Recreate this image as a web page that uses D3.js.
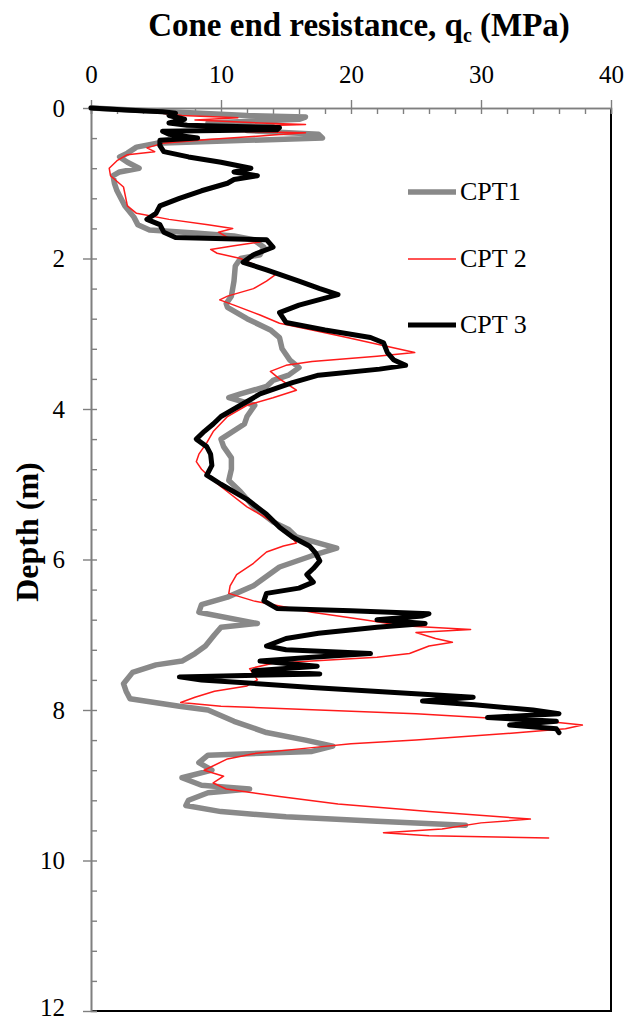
<!DOCTYPE html>
<html>
<head>
<meta charset="utf-8">
<script src="https://cdn.jsdelivr.net/npm/d3@7"></script>
<style>
  html, body { margin: 0; padding: 0; background: #fff; }
  svg { display: block; }
  text { font-family: "Liberation Serif", "Times New Roman", serif; fill: #000; }
</style>
</head>
<body>
<svg id="chart" width="629" height="1021"></svg>
<script>
// Cone penetration test profiles: depth (m) and cone end resistance qc (MPa)
const cpt1Depth = [0.00,0.05,0.10,0.12,0.15,0.20,0.25,0.30,0.35,0.40,0.43,0.47,0.52,0.60,0.65,0.72,0.80,0.85,0.90,1.00,1.10,1.20,1.30,1.45,1.55,1.62,1.66,1.70,1.75,1.85,1.95,2.00,2.10,2.30,2.50,2.60,2.65,2.80,2.95,3.05,3.20,3.35,3.45,3.55,3.62,3.70,3.80,3.85,3.95,4.10,4.20,4.40,4.50,4.65,4.80,4.95,5.10,5.30,5.50,5.60,5.70,5.85,5.95,6.10,6.25,6.35,6.50,6.60,6.70,6.85,6.90,7.00,7.15,7.25,7.35,7.40,7.50,7.65,7.75,7.85,7.95,8.00,8.15,8.30,8.40,8.48,8.55,8.60,8.70,8.80,8.90,9.00,9.05,9.10,9.20,9.27,9.35,9.42,9.48,9.53];
const cpt1Qc    = [0.0,6.0,12.0,16.5,16.0,9.0,14.0,12.0,17.5,17.8,12.0,5.0,3.5,2.8,2.2,2.8,3.7,2.2,1.7,1.8,2.0,2.3,2.6,3.3,3.6,4.5,8.0,11.0,12.5,13.3,13.0,11.5,11.1,11.0,10.8,10.4,10.5,12.0,13.8,14.5,14.7,15.3,16.0,15.2,14.0,13.5,11.5,10.6,12.6,12.0,11.8,10.0,10.2,10.8,10.8,10.6,11.5,12.5,14.0,15.2,15.8,18.9,17.0,14.5,13.3,12.5,10.5,8.5,8.3,12.8,10.0,9.5,8.8,8.0,7.0,5.0,3.2,2.5,2.7,3.0,6.8,9.0,11.0,13.5,16.5,18.6,17.0,9.0,8.3,9.3,7.0,8.5,12.2,9.0,7.5,7.3,10.0,15.0,22.0,28.8];

const cpt2Depth = [0.00,0.03,0.06,0.10,0.13,0.16,0.20,0.22,0.25,0.30,0.33,0.36,0.42,0.47,0.53,0.58,0.62,0.70,0.80,0.90,1.05,1.30,1.40,1.48,1.55,1.60,1.65,1.72,1.78,1.83,1.88,1.93,2.00,2.10,2.20,2.30,2.40,2.50,2.55,2.62,2.75,2.86,2.95,3.05,3.15,3.25,3.30,3.37,3.42,3.50,3.60,3.75,3.85,3.95,4.10,4.30,4.45,4.60,4.70,4.80,4.95,5.10,5.30,5.45,5.57,5.70,5.78,5.82,5.90,6.05,6.20,6.35,6.45,6.55,6.70,6.80,6.88,6.93,6.97,7.05,7.10,7.15,7.25,7.30,7.38,7.45,7.55,7.60,7.68,7.75,7.83,7.90,7.95,8.05,8.15,8.20,8.25,8.30,8.40,8.45,8.50,8.58,8.65,8.80,8.88,8.97,9.05,9.15,9.25,9.35,9.45,9.50,9.58,9.63,9.67,9.70];
const cpt2Qc    = [0.0,3.0,5.0,7.0,11.3,8.0,13.0,16.5,10.0,8.0,16.5,14.0,9.0,5.5,4.3,4.9,2.8,2.0,1.4,1.5,2.5,2.8,3.5,6.0,9.0,10.9,9.8,10.5,13.0,11.0,9.2,9.7,11.5,12.8,14.3,13.5,12.5,10.5,9.9,11.0,13.0,14.5,17.0,19.7,22.3,24.9,22.0,17.0,15.0,13.8,14.5,15.8,14.0,12.0,10.5,9.4,8.9,8.3,8.1,8.5,9.4,10.5,12.0,13.5,14.5,15.4,15.8,14.8,13.5,12.5,11.2,10.7,10.6,12.5,17.0,21.0,24.0,29.2,25.0,26.5,27.8,26.0,24.5,22.0,14.0,12.2,12.6,12.8,12.0,9.5,8.0,6.9,10.0,25.0,35.0,37.8,36.5,33.0,25.0,20.0,17.0,12.5,10.5,8.7,10.2,9.4,10.4,14.5,19.0,26.0,33.8,30.0,27.0,22.5,26.0,35.2];

const cpt3Depth = [0.00,0.03,0.05,0.07,0.10,0.15,0.20,0.23,0.26,0.29,0.31,0.35,0.40,0.43,0.50,0.58,0.65,0.72,0.80,0.85,0.90,0.95,1.00,1.10,1.20,1.30,1.40,1.48,1.55,1.65,1.72,1.75,1.85,1.95,2.05,2.15,2.30,2.40,2.48,2.55,2.62,2.72,2.85,2.95,3.05,3.12,3.25,3.35,3.42,3.47,3.55,3.65,3.80,3.95,4.10,4.20,4.30,4.40,4.50,4.60,4.75,4.88,5.00,5.20,5.40,5.57,5.70,5.82,5.92,6.02,6.12,6.20,6.30,6.38,6.45,6.55,6.65,6.68,6.72,6.75,6.80,6.85,6.90,6.98,7.05,7.15,7.20,7.25,7.30,7.35,7.42,7.48,7.52,7.56,7.60,7.70,7.83,7.88,7.93,8.00,8.05,8.10,8.15,8.20,8.25,8.30];
const cpt3Qc    = [0.0,3.0,5.5,6.5,6.0,7.2,6.0,7.4,14.5,14.3,5.5,6.0,8.2,5.3,5.3,5.6,7.5,10.0,12.3,11.0,12.8,11.0,10.5,8.5,6.8,5.3,5.0,4.3,5.3,5.6,6.5,13.5,14.0,12.5,11.7,13.5,16.0,17.6,19.0,17.5,16.0,14.5,15.0,18.0,21.5,22.5,22.8,23.3,24.2,22.2,17.5,15.5,13.0,11.5,10.0,9.4,8.7,8.1,8.9,9.2,9.3,8.9,10.0,12.0,13.5,14.5,15.5,16.8,17.3,17.6,17.1,16.6,17.1,16.0,13.5,13.3,14.3,20.0,26.0,25.5,22.0,25.7,22.0,17.5,15.0,13.5,15.0,21.5,17.0,13.0,17.4,12.5,17.6,6.8,8.5,17.0,29.4,25.5,29.5,34.0,36.0,30.5,35.8,32.2,35.8,36.0];

const seriesNames = ["CPT1", "CPT 2", "CPT 3"];
const seriesColors = ["#898989", "#ff1a1a", "#000000"];
const seriesWidths = [5.5, 1.5, 5];

const xTicksMajor = [0, 10, 20, 30, 40];
const yTicksMajor = [0, 2, 4, 6, 8, 10, 12];

const titleText = "Cone end resistance, q";
const titleSub = "c";
const titleUnit = " (MPa)";
const yTitle = "Depth (m)";

const margin = { left: 91, top: 108, right: 18, bottom: 10 };
const plotW = 611 - margin.left, plotH = 1011 - margin.top;

const svg = d3.select("#chart");
const x = d3.scaleLinear().domain([0, 40]).range([margin.left, margin.left + plotW]);
const y = d3.scaleLinear().domain([0, 12]).range([margin.top, margin.top + plotH]);

// plot-area border (right and bottom)
svg.append("path")
  .attr("d", `M${x(0)},${y(12)}H${x(40)}V${y(0)}`)
  .attr("fill", "none").attr("stroke", "#000").attr("stroke-width", 2);

// top axis: minor ticks inward, major ticks outward with labels
const axisCol = "#7f7f7f";
const gTopMinor = svg.append("g").attr("transform", `translate(0,${y(0)})`)
  .call(d3.axisBottom(x).tickValues(d3.range(0, 40.01, 2)).tickSize(6).tickFormat(""));
const gTop = svg.append("g").attr("transform", `translate(0,${y(0)})`)
  .call(d3.axisTop(x).tickValues(xTicksMajor).tickSizeInner(8).tickSizeOuter(0).tickPadding(17).tickFormat(d3.format("d")));

// left axis
const gLeftMinor = svg.append("g").attr("transform", `translate(${x(0)},0)`)
  .call(d3.axisRight(y).tickValues(d3.range(0, 12.01, 0.4)).tickSize(6).tickFormat(""));
const gLeft = svg.append("g").attr("transform", `translate(${x(0)},0)`)
  .call(d3.axisLeft(y).tickValues(yTicksMajor).tickSizeInner(8).tickSizeOuter(0).tickPadding(18).tickFormat(d3.format("d")));

[gTopMinor, gTop, gLeftMinor, gLeft].forEach(g => {
  g.selectAll(".domain").attr("stroke", axisCol).attr("stroke-width", 1.6);
  g.selectAll(".tick line").attr("stroke", axisCol).attr("stroke-width", 1.4);
  g.selectAll(".tick text").attr("font-family", "Liberation Serif, serif").attr("font-size", 25).attr("fill", "#000");
});
// keep the bottom depth label inside the page edge
gLeft.selectAll(".tick text").filter(d => d === 12).attr("dy", "0.16em");

// profiles
const series = [
  { depth: cpt1Depth, qc: cpt1Qc },
  { depth: cpt2Depth, qc: cpt2Qc },
  { depth: cpt3Depth, qc: cpt3Qc }
];
const line = d3.line().x(d => x(d[1])).y(d => y(d[0])).curve(d3.curveLinear);
series.forEach((s, i) => {
  const pts = s.depth.map((d, k) => [d, s.qc[k]]);
  svg.append("path").datum(pts)
    .attr("d", line)
    .attr("fill", "none")
    .attr("stroke", seriesColors[i])
    .attr("stroke-width", seriesWidths[i])
    .attr("stroke-linejoin", "round")
    .attr("stroke-linecap", "round");
});

// legend
const legendY = [192, 259, 325];
seriesNames.forEach((name, i) => {
  svg.append("line")
    .attr("x1", 408).attr("x2", 456)
    .attr("y1", legendY[i]).attr("y2", legendY[i])
    .attr("stroke", seriesColors[i]).attr("stroke-width", seriesWidths[i]);
  svg.append("text")
    .attr("x", 460).attr("y", legendY[i] + 8)
    .attr("font-size", 26)
    .text(name);
});

// titles
const t = svg.append("text")
  .attr("x", 359).attr("y", 36)
  .attr("text-anchor", "middle")
  .attr("font-size", 33).attr("font-weight", "bold");
t.append("tspan").text(titleText);
t.append("tspan").attr("font-size", 20).attr("dy", 6).text(titleSub);
t.append("tspan").attr("dy", -6).text(titleUnit);

svg.append("text")
  .attr("transform", `translate(38,532) rotate(-90)`)
  .attr("text-anchor", "middle")
  .attr("font-size", 32).attr("font-weight", "bold")
  .text(yTitle);
</script>
</body>
</html>
